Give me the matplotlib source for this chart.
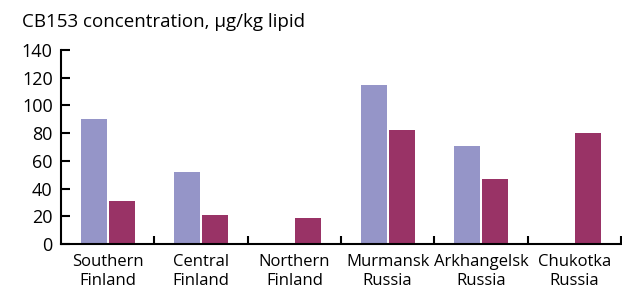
import numpy as np
import matplotlib
matplotlib.use("Agg")
import matplotlib.pyplot as plt

plt.rcParams['font.family'] = ['Open Sans', 'DejaVu Sans']

categories = ["Southern\nFinland", "Central\nFinland", "Northern\nFinland",
              "Murmansk\nRussia", "Arkhangelsk\nRussia", "Chukotka\nRussia"]
series_a = [90, 52, np.nan, 115, 71, np.nan]
series_b = [31, 21, 19, 82, 47, 80]
yticks = [0, 20, 40, 60, 80, 100, 120, 140]
title = "CB153 concentration, µg/kg lipid"

col_a = "#9595c8"
col_b = "#993366"

fig = plt.figure(figsize=(6.22, 2.93), dpi=100)
ax = fig.add_axes([61/622, 49/293, 560/622, 194/293])

x = np.arange(len(categories))
w = 0.28
ax.bar(x - 0.15, series_a, width=w, color=col_a, linewidth=0)
ax.bar(x + 0.15, series_b, width=w, color=col_b, linewidth=0)

ax.set_xlim(-0.5, len(categories) - 0.5)
ax.set_ylim(0, 140)
ax.set_yticks(yticks)
ax.set_xticks(x)
ax.set_xticklabels(categories, fontsize=12, linespacing=1.3)
ax.set_xticks(np.arange(len(categories)) + 0.5, minor=True)

for s in ['top', 'right']:
    ax.spines[s].set_visible(False)
for s in ['left', 'bottom']:
    ax.spines[s].set_linewidth(1.5)

ax.tick_params(axis='y', direction='in', length=6.5, width=1.5, pad=6, labelsize=13)
ax.tick_params(axis='x', which='major', length=0, pad=7)
ax.tick_params(axis='x', which='minor', direction='in', length=6, width=1.5)

fig.text(22/622, 1 - 27/293, title, fontsize=13.5, ha='left', va='baseline')

fig.savefig("out.png", dpi=100)
